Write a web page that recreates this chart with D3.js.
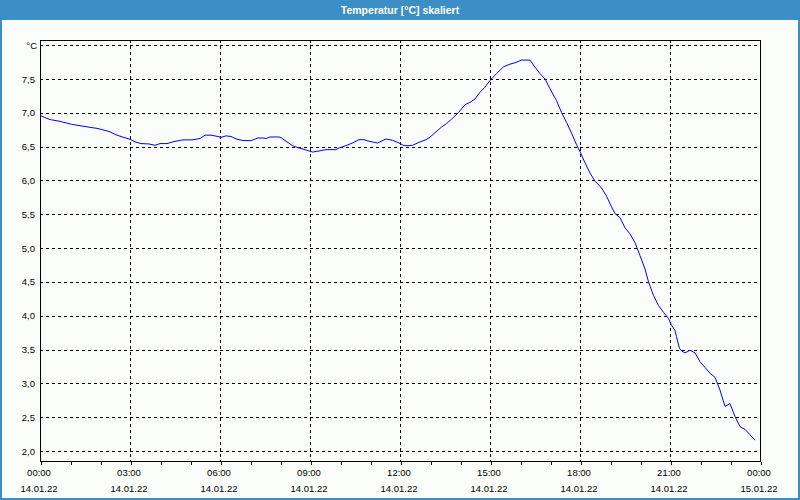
<!DOCTYPE html>
<html>
<head>
<meta charset="utf-8">
<script src="https://cdn.jsdelivr.net/npm/d3@7"></script>
<style>
  html, body { margin: 0; padding: 0; background: #fff; }
  svg { display: block; }
  text { font-family: "Liberation Sans", Arial, sans-serif; }
</style>
</head>
<body>
<svg id="chart" width="800" height="500"></svg>
<script>
// ---- data ----
const title = "Temperatur [°C] skaliert";
const unitLabel = "°C";
const times = ["00:00","00:10","00:20","00:36","00:50","01:03","01:20","01:36","01:54","02:10","02:20","02:32","02:46","03:00","03:10","03:22","03:38","03:50","04:00","04:14","04:28","04:46","05:04","05:20","05:30","05:42","05:56","06:02","06:12","06:22","06:32","06:46","07:02","07:16","07:26","07:32","07:40","07:58","08:02","08:12","08:25","08:38","08:48","09:05","09:18","09:32","09:52","09:58","10:12","10:25","10:38","10:48","10:58","11:15","11:32","11:45","11:58","12:08","12:18","12:25","12:38","12:52","13:00","13:10","13:23","13:33","13:43","13:57","14:10","14:20","14:30","14:40","14:50","15:00","15:13","15:27","15:40","15:50","16:03","16:20","16:27","16:40","16:50","17:00","17:13","17:23","17:33","17:43","17:53","18:01","18:10","18:20","18:30","18:43","18:53","19:03","19:10","19:20","19:30","19:40","19:50","20:00","20:10","20:17","20:27","20:37","20:47","20:57","21:03","21:10","21:13","21:19","21:23","21:30","21:40","21:50","22:00","22:10","22:20","22:30","22:40","22:50","23:00","23:10","23:20","23:30","23:40","23:50"];
const temps = [6.96,6.93,6.90,6.88,6.855,6.83,6.81,6.79,6.77,6.74,6.72,6.675,6.64,6.61,6.57,6.545,6.54,6.52,6.545,6.545,6.575,6.60,6.60,6.62,6.67,6.67,6.65,6.636,6.66,6.65,6.615,6.59,6.59,6.628,6.628,6.62,6.643,6.643,6.633,6.58,6.515,6.48,6.46,6.42,6.436,6.456,6.456,6.48,6.515,6.554,6.603,6.603,6.58,6.554,6.613,6.594,6.554,6.515,6.515,6.52,6.564,6.603,6.64,6.705,6.79,6.84,6.905,7.005,7.12,7.155,7.205,7.305,7.38,7.48,7.58,7.68,7.72,7.74,7.78,7.78,7.705,7.58,7.50,7.355,7.18,7.005,6.86,6.70,6.53,6.41,6.26,6.11,5.99,5.89,5.77,5.61,5.51,5.45,5.30,5.21,5.08,4.89,4.69,4.50,4.30,4.15,4.05,3.96,3.86,3.78,3.69,3.515,3.48,3.45,3.49,3.45,3.32,3.235,3.15,3.09,2.90,2.66,2.70,2.51,2.36,2.32,2.24,2.16];
const yTicks = [2.0,2.5,3.0,3.5,4.0,4.5,5.0,5.5,6.0,6.5,7.0,7.5];
const yTop = 8.0;
const xStart = "14.01.22 00:00";
const xEnd = "15.01.22 00:00";
const startDate = "14.01.22";

// ---- layout ----
const W = 800, H = 500;
const plot = { left: 40, right: 760, top: 40, bottom: 461 };

const parseFull = d3.timeParse("%d.%m.%y %H:%M");
const t0 = parseFull(xStart), t1 = parseFull(xEnd);
const data = times.map((t, i) => ({ t: parseFull(startDate + " " + t), v: temps[i] }));

const x = d3.scaleTime().domain([t0, t1]).range([plot.left, plot.right]);
const y = d3.scaleLinear().domain([2, 8]).range([451, 45.2]);

const svg = d3.select("#chart");

// window background and border
svg.append("rect").attr("x", 0).attr("y", 0).attr("width", W).attr("height", H).attr("fill", "#3c8fc6");
svg.append("rect").attr("x", 2).attr("y", 20).attr("width", W - 4).attr("height", H - 22).attr("fill", "#fbfdfb");
svg.append("text").attr("x", W / 2).attr("y", 13.5).attr("text-anchor", "middle")
  .attr("fill", "#ffffff").attr("font-size", "10.5px").attr("font-weight", "bold").text(title);

// horizontal gridlines
const grid = svg.append("g").attr("shape-rendering", "crispEdges");
grid.selectAll("line.h").data(yTicks.concat([yTop])).join("line")
  .attr("class", "h")
  .attr("x1", plot.left).attr("x2", plot.right)
  .attr("y1", d => Math.round(y(d)) + 0.5).attr("y2", d => Math.round(y(d)) + 0.5)
  .attr("stroke", "#000").attr("stroke-width", 1).attr("stroke-dasharray", "3,3");

// vertical gridlines every 3 hours
const majorTicks = d3.timeHour.every(3).range(t0, d3.timeHour.offset(t1, 1));
grid.selectAll("line.v").data(majorTicks.filter(d => +d !== +t0 && +d !== +t1)).join("line")
  .attr("class", "v")
  .attr("x1", d => Math.round(x(d)) + 0.5).attr("x2", d => Math.round(x(d)) + 0.5)
  .attr("y1", plot.top).attr("y2", plot.bottom)
  .attr("stroke", "#000").attr("stroke-width", 1).attr("stroke-dasharray", "3,3");

// frame
svg.append("rect")
  .attr("x", plot.left + 0.5).attr("y", plot.top + 0.5)
  .attr("width", plot.right - plot.left).attr("height", plot.bottom - plot.top)
  .attr("fill", "none").attr("stroke", "#000").attr("stroke-width", 1)
  .attr("shape-rendering", "crispEdges");

// x axis ticks (hourly)
const xAxis = d3.axisBottom(x).ticks(d3.timeHour.every(1)).tickSize(3).tickFormat("");
const gx = svg.append("g").attr("transform", `translate(0.5,${plot.bottom + 0.5})`).call(xAxis);
gx.select(".domain").remove();
gx.selectAll("line").attr("stroke", "#000").attr("shape-rendering", "crispEdges");

// x labels
const fmtTime = d3.timeFormat("%H:%M"), fmtDate = d3.timeFormat("%d.%m.%y");
const xl = svg.append("g").attr("font-size", "9.5px").attr("fill", "#000").attr("text-anchor", "middle");
majorTicks.filter(d => d <= t1).forEach(d => {
  xl.append("text").attr("x", x(d) - 1).attr("y", 476).text(fmtTime(d));
  xl.append("text").attr("x", x(d) - 1).attr("y", 492).text(fmtDate(d));
});

// y labels
const yAxis = d3.axisLeft(y).tickValues(yTicks).tickSize(0).tickPadding(5)
  .tickFormat(d => d3.format(".1f")(d).replace(".", ","));
const gy = svg.append("g").attr("transform", `translate(${plot.left},0)`).call(yAxis);
gy.select(".domain").remove();
gy.selectAll("text").attr("font-size", "9.5px").attr("font-family", "Liberation Sans, Arial, sans-serif").attr("fill", "#000");
svg.append("text").attr("x", 37).attr("y", y(yTop)).attr("dy", "0.35em").attr("text-anchor", "end")
  .attr("font-size", "9.5px").attr("fill", "#000").text(unitLabel);

// line
const line = d3.line().x(d => x(d.t)).y(d => y(d.v));
svg.append("path").datum(data).attr("d", line)
  .attr("fill", "none").attr("stroke", "#0000ff").attr("stroke-width", 1);
</script>
</body>
</html>
